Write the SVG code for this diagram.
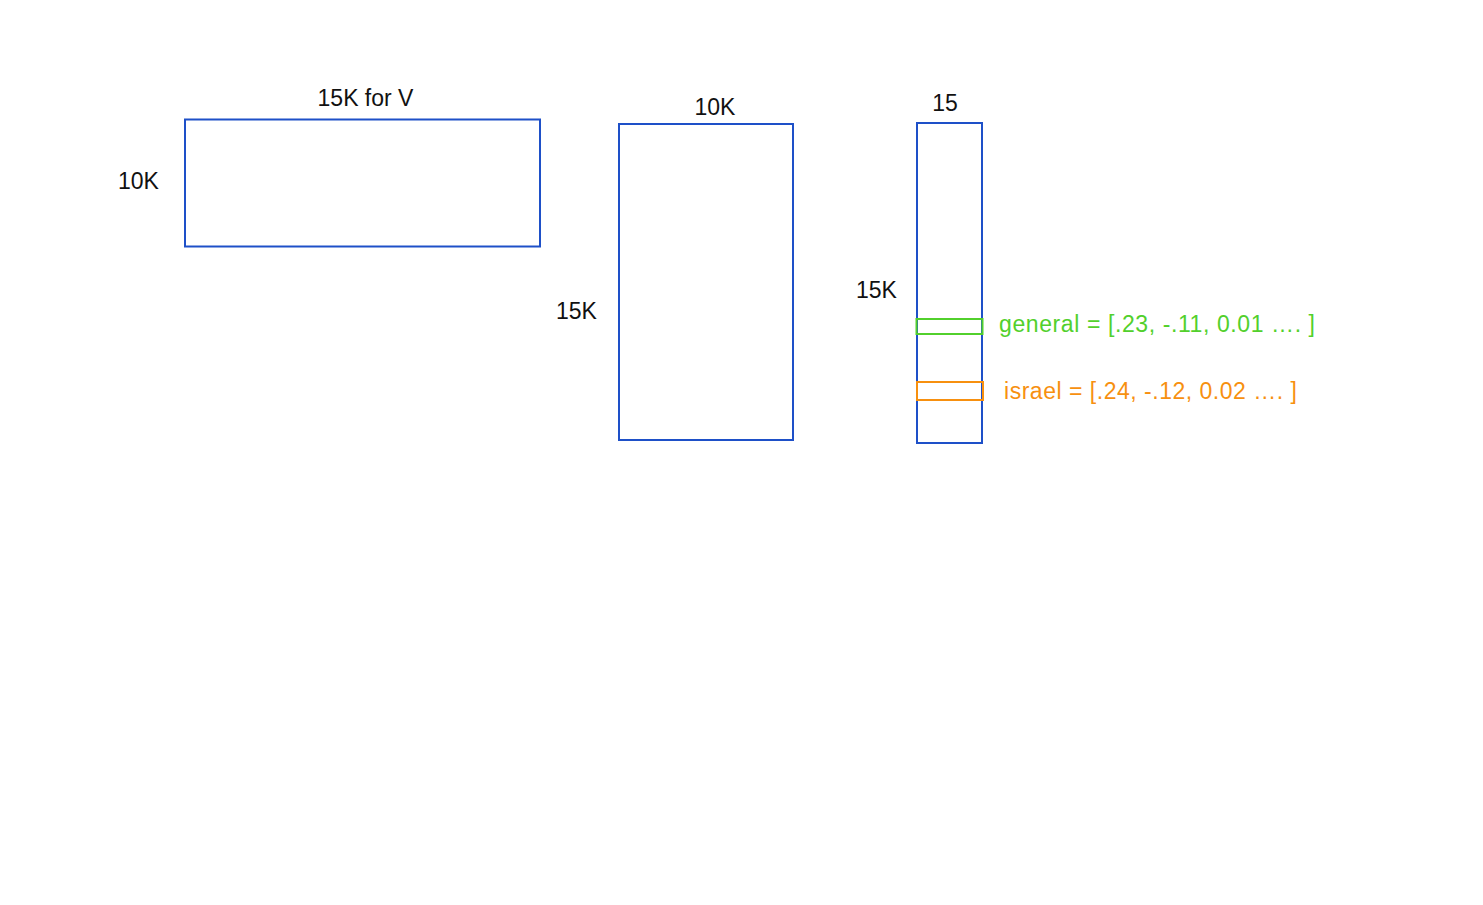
<svg xmlns="http://www.w3.org/2000/svg" width="1483" height="905" viewBox="0 0 1483 905">
<style>
.m{fill:none;stroke:#1e50c8;stroke-width:2}
.t{font-family:"Liberation Sans",Arial,sans-serif;font-size:23px;fill:#111}
.g{fill:none;stroke:#52d02c;stroke-width:2}
.o{fill:none;stroke:#f7900f;stroke-width:2}
</style>
<rect width="1483" height="905" fill="#fff"/>
<g id="matrix1">
<rect class="m" x="185" y="119.5" width="355" height="127"/>
<text class="t" x="365.5" y="106" text-anchor="middle">15K for V</text>
<text class="t" x="118" y="189">10K</text>
</g>
<g id="matrix2">
<rect class="m" x="619" y="124" width="174" height="316"/>
<text class="t" x="715" y="115" text-anchor="middle">10K</text>
<text class="t" x="556" y="319">15K</text>
</g>
<g id="matrix3">
<rect class="m" x="917" y="123" width="65" height="320"/>
<text class="t" x="945" y="111" text-anchor="middle">15</text>
<text class="t" x="856" y="298">15K</text>
</g>
<g id="general">
<rect class="g" x="916.5" y="319" width="66" height="15"/>
<text class="t" x="999" y="332" textLength="316" lengthAdjust="spacing" style="fill:#52d02c">general = [.23, -.11, 0.01 …. ]</text>
</g>
<g id="israel">
<rect class="o" x="917" y="382" width="66" height="18"/>
<text class="t" x="1004" y="399" textLength="293" lengthAdjust="spacing" style="fill:#f7900f">israel = [.24, -.12, 0.02 …. ]</text>
</g>
<g id="connectors"></g>
</svg>
